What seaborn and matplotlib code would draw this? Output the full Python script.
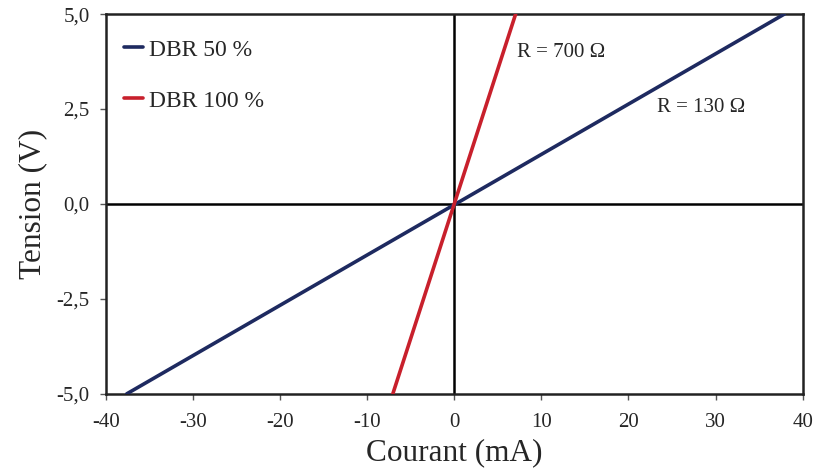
import matplotlib
matplotlib.use('Agg')
import matplotlib.pyplot as plt
import seaborn as sns
import pandas as pd

# data (straight I-V lines)
courant_50 = [-37.6, 37.9]
tension_50 = [-5.0, 5.0]
courant_100 = [-7.05, 7.05]
tension_100 = [-5.0, 5.0]
series = ['DBR 50 %', 'DBR 100 %']
colors = ['#1e2a60', '#c8202c']
x_ticks = [-40, -30, -20, -10, 0, 10, 20, 30, 40]
y_ticks = [-5.0, -2.5, 0.0, 2.5, 5.0]

df = pd.concat([
    pd.DataFrame({'Courant': courant_50, 'Tension': tension_50, 'serie': series[0]}),
    pd.DataFrame({'Courant': courant_100, 'Tension': tension_100, 'serie': series[1]}),
])

sns.set_style('white')
plt.rcParams['font.family'] = ['Liberation Serif', 'DejaVu Serif']

fig, ax = plt.subplots(figsize=(8.14, 4.70), dpi=100)
fig.subplots_adjust(left=0.13, right=0.986, top=0.97, bottom=0.162)

ax.axhline(0, color='black', lw=1.8, zorder=1)
ax.axvline(0, color='black', lw=1.8, zorder=1)

sns.lineplot(data=df, x='Courant', y='Tension', hue='serie', palette=colors,
             lw=2.6, ax=ax, sort=False, zorder=3)

ax.set_xlim(-40, 40)
ax.set_ylim(-5, 5)
ax.set_xticks(x_ticks)
ax.set_yticks(y_ticks)
ax.set_xticklabels([str(t) for t in x_ticks])
ax.set_yticklabels([f'{t:.1f}'.replace('.', ',') for t in y_ticks])
ax.tick_params(direction='out', length=4.5, width=1, color='#555555',
               labelsize=15, bottom=True, left=True)
ax.tick_params(axis='x', pad=9)
ax.tick_params(axis='y', pad=7)

for s in ax.spines.values():
    s.set_color('#222222')
    s.set_linewidth(1.8)

ax.set_xlabel('Courant (mA)', fontsize=22.5, labelpad=5)
ax.set_ylabel('Tension (V)', fontsize=22.5, labelpad=7)

ax.text(7.2, 4.0, 'R = 700 Ω', fontsize=15, va='center', ha='left')
ax.text(23.3, 2.55, 'R = 130 Ω', fontsize=15, va='center', ha='left')

leg = ax.legend(loc='upper left', frameon=False, fontsize=17, handlelength=0.8,
                handletextpad=0.25, labelspacing=1.25, borderaxespad=0.3,
                bbox_to_anchor=(0.003, 0.978))
for line in leg.get_lines():
    line.set_linewidth(2.6)

fig.savefig('out.png', dpi=100)
